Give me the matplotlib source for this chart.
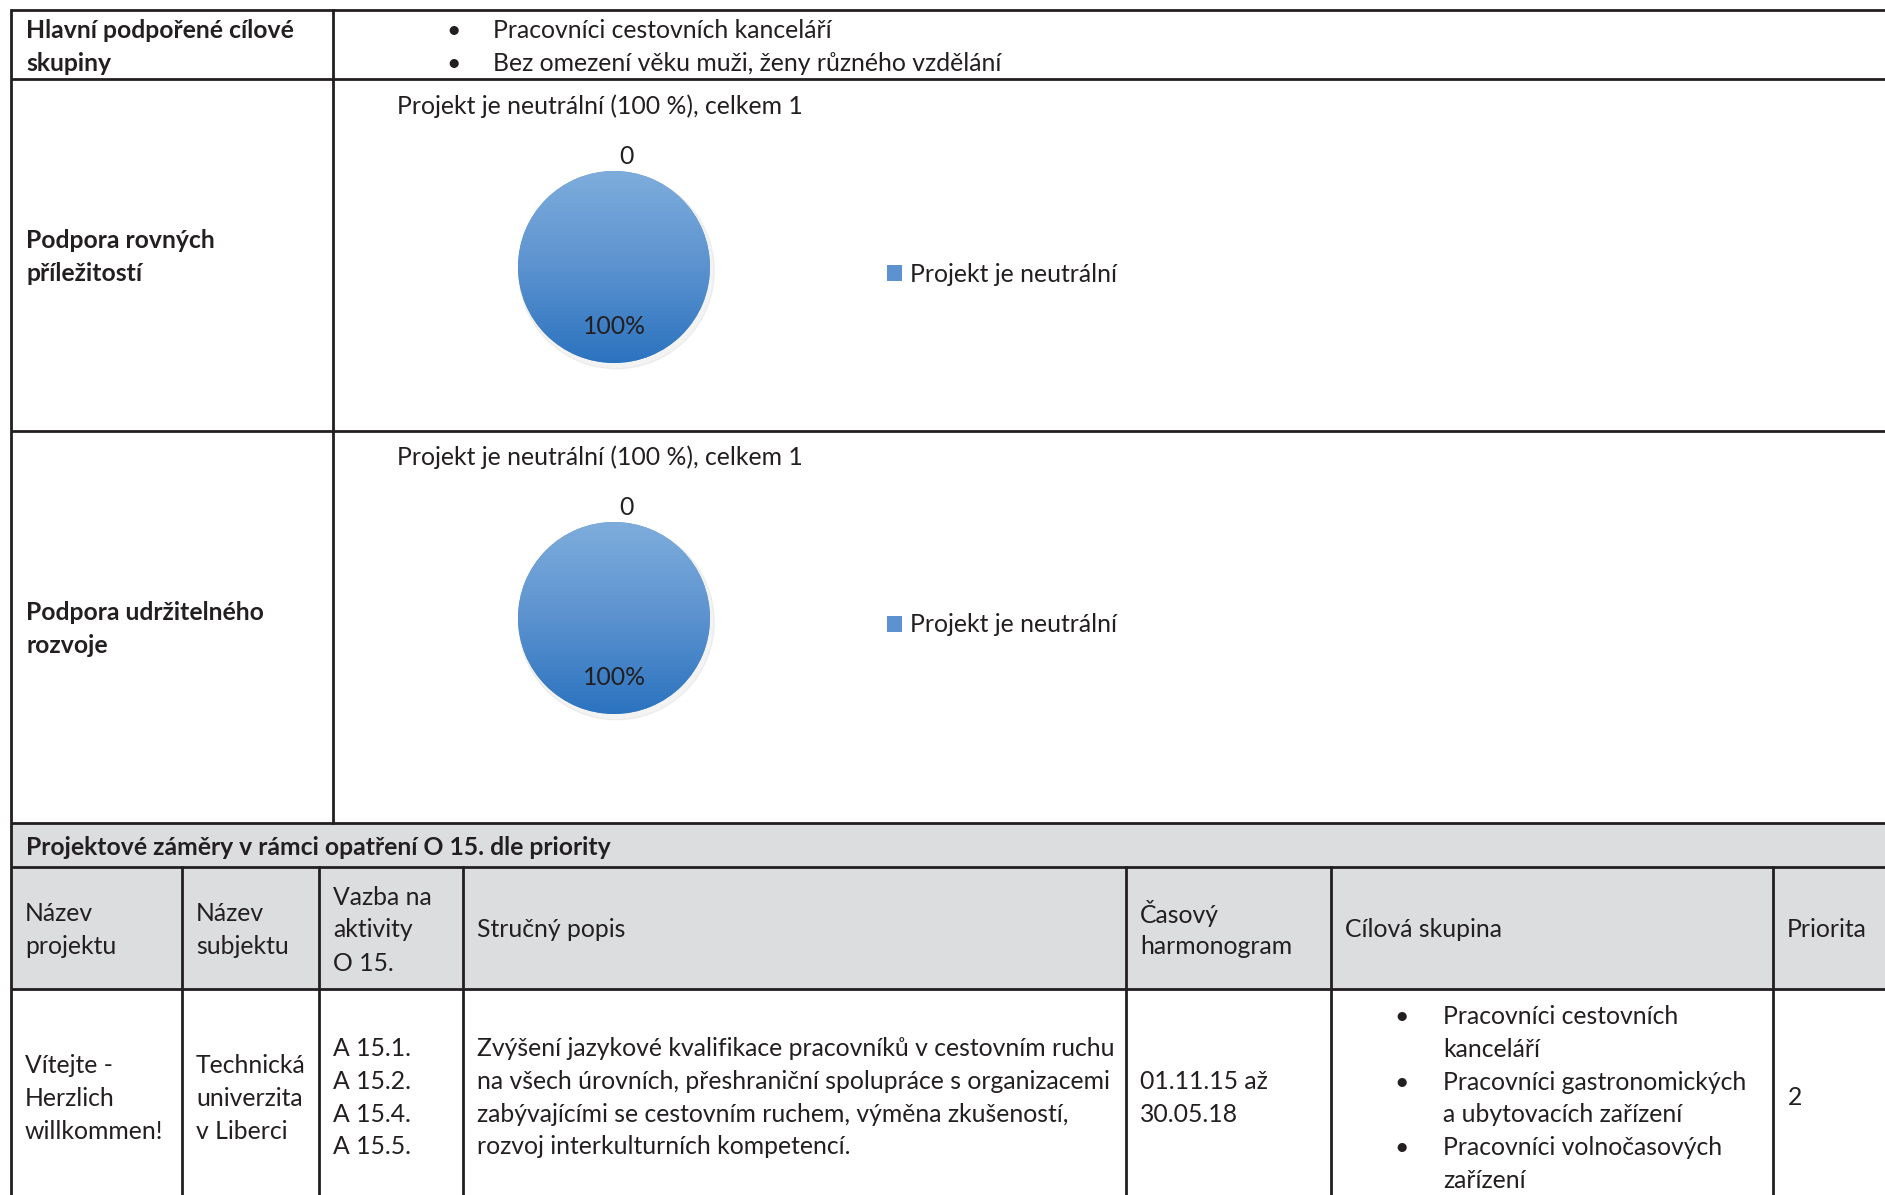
import numpy as np
import matplotlib
matplotlib.use("Agg")
import matplotlib.pyplot as plt
from matplotlib.patches import Rectangle, Circle
from matplotlib.colors import LinearSegmentedColormap

plt.rcParams['font.family'] = ['Lato', 'DejaVu Sans']

# ---- data ----
pie_title = "Projekt je neutrální (100 %), celkem 1"
pie_labels = ["Projekt je neutrální"]
pie_values = [1]
pie_top_label = "0"

row_labels = [["Hlavní podpořené cílové", "skupiny"],
              ["Podpora rovných", "příležitostí"],
              ["Podpora udržitelného", "rozvoje"]]
target_groups_top = ["Pracovníci cestovních kanceláří",
                     "Bez omezení věku muži, ženy různého vzdělání"]

section_title = "Projektové záměry v rámci opatření O 15. dle priority"
headers = [["Název", "projektu"], ["Název", "subjektu"],
           ["Vazba na", "aktivity", "O 15."], ["Stručný popis"],
           ["Časový", "harmonogram"], ["Cílová skupina"], ["Priorita"]]
project_name = ["Vítejte -", "Herzlich", "willkommen!"]
subject_name = ["Technická", "univerzita", "v Liberci"]
activities = ["A 15.1.", "A 15.2.", "A 15.4.", "A 15.5."]
description = ["Zvýšení jazykové kvalifikace pracovníků v cestovním ruchu",
               "na všech úrovních, přeshraniční spolupráce s organizacemi",
               "zabývajícími se cestovním ruchem, výměna zkušeností,",
               "rozvoj interkulturních kompetencí."]
schedule = ["01.11.15 až", "30.05.18"]
target_groups = [["Pracovníci cestovních", "kanceláří"],
                 ["Pracovníci gastronomických", "a ubytovacích zařízení"],
                 ["Pracovníci volnočasových", "zařízení"]]
priority = ["2"]

W, H = 1885, 1195
fig = plt.figure(figsize=(W / 100, H / 100), dpi=100)
ax = fig.add_axes([0, 0, 1, 1])
ax.set_xlim(0, W)
ax.set_ylim(H, 0)
ax.axis('off')

TXT = '#231f20'
FS = 17.8
LH = 32.8
DY = 1.5
lw = 2.0

# gray areas
ax.add_patch(Rectangle((11, 823), W, 989 - 823, color='#dcdddf', zorder=0))

# horizontal lines
for y in [10, 79, 431, 823, 867, 989]:
    ax.plot([11, W + 5], [y, y], color='#231f20', lw=lw, solid_capstyle='butt')
# vertical lines
ax.plot([11, 11], [10, H + 5], color='#231f20', lw=lw)
ax.plot([333, 333], [10, 823], color='#231f20', lw=lw)
cols = [11, 182, 319, 463, 1126, 1331, 1773]
for x in cols[1:]:
    ax.plot([x, x], [867, H + 5], color='#231f20', lw=lw)


def lines(x, y0, items, bold=False):
    for i, s in enumerate(items):
        ax.text(x, y0 + i * LH + DY, s, fontsize=FS, color=TXT, va='center',
                ha='left', fontweight='bold' if bold else 'normal')


# left column labels
lines(26, 29, row_labels[0], bold=True)
lines(26, 239, row_labels[1], bold=True)
lines(26, 611, row_labels[2], bold=True)
for i, s in enumerate(target_groups_top):
    ax.text(446, 29 + i * LH + DY, "•", fontsize=FS, color=TXT, va='center')
    ax.text(493, 29 + i * LH + DY, s, fontsize=FS, color=TXT, va='center')

# section
lines(26, 846, [section_title], bold=True)
hy = {1: [928], 2: [912, 945], 3: [896, 928, 962]}
for c, h in zip(cols, headers):
    ys = hy[len(h)]
    for y, s in zip(ys, h):
        ax.text(c + 14, y + DY, s, fontsize=FS, color=TXT, va='center')

lines(25, 1064, project_name)
lines(196, 1064, subject_name)
lines(333, 1047, activities)
lines(477, 1047, description)
lines(1140, 1080, schedule)
yy = 1015
for g in target_groups:
    ax.text(1394, yy + DY, "•", fontsize=FS, color=TXT, va='center')
    lines(1443, yy, g)
    yy += LH * len(g)
lines(1788, 1096, priority)

# ---- pies ----
R = 96
grad = np.linspace(0, 1, 256).reshape(-1, 1)
cmap = LinearSegmentedColormap.from_list('b', ['#2b73bf', '#5b92cf', '#7eaddc'])


def draw_pie(cx, cy, ty):
    ax.text(397, ty + DY, pie_title, fontsize=FS, color=TXT, va='center')
    size = 260
    pax = fig.add_axes([(cx - size / 2) / W, 1 - (cy + size / 2) / H, size / W, size / H])
    sh = Circle((0.025, -0.04), 1.02, color='#aaaaaa', alpha=0.14, zorder=0)
    pax.add_patch(sh)
    wedges, texts, auto = pax.pie(pie_values, labels=None, startangle=90,
                                  autopct='%.0f%%', pctdistance=0.62,
                                  colors=['#5b92cf'], radius=1,
                                  textprops=dict(fontsize=FS, color=TXT))
    im = pax.imshow(grad, extent=[-1, 1, -1, 1], origin='lower', cmap=cmap,
                    aspect='auto', zorder=1.5)
    im.set_clip_path(wedges[0])
    for t in auto:
        t.set_zorder(3)
    pax.text(0.125, 1.15, pie_top_label, fontsize=FS, color=TXT, ha='center', va='center')
    pax.set_xlim(-size / 2 / R, size / 2 / R)
    pax.set_ylim(-size / 2 / R, size / 2 / R)
    pax.set_aspect('equal')
    pax.axis('off')
    leg = pax.legend(wedges, pie_labels, loc='center left', frameon=False,
                     bbox_to_anchor=((887 - (cx - size / 2)) / size, 0.5 - 7 / size),
                     fontsize=FS, handlelength=0.6, handleheight=0.6,
                     handletextpad=0.35, borderpad=0, borderaxespad=0)
    for t in leg.get_texts():
        t.set_color(TXT)


draw_pie(614, 267, 105)
draw_pie(614, 618, 456)

fig.savefig('out.png', dpi=100)
